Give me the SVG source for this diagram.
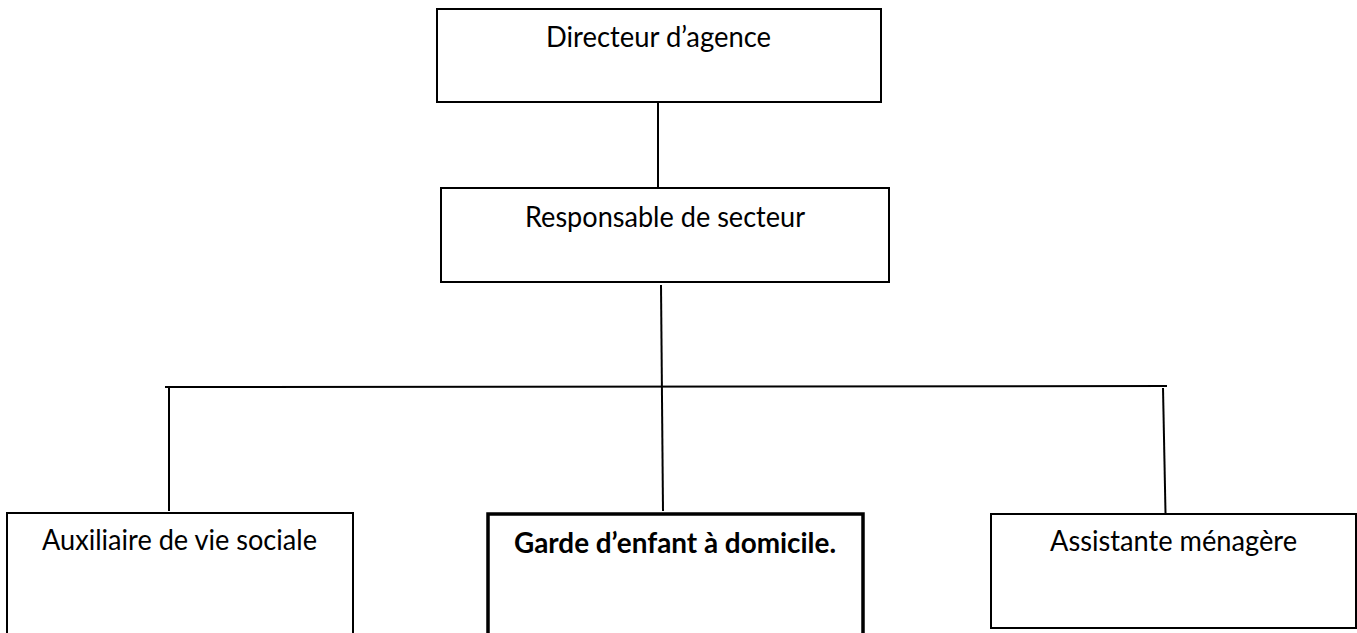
<svg xmlns="http://www.w3.org/2000/svg" width="1357" height="633" viewBox="0 0 1357 633">
<style>
.box{fill:#fff;stroke:#000;stroke-width:2}
.bold{fill:#fff;stroke:#000;stroke-width:3.5}
.t{font-family:Lato,"Open Sans","Liberation Sans",sans-serif;font-size:29px;fill:#000;text-anchor:middle}
.tb{font-weight:bold}
.c line{stroke:#000;stroke-width:2;fill:none}
</style>
<rect width="1357" height="633" fill="#fff"/>
<g id="n-directeur">
<rect class="box" x="437" y="9" width="444" height="93"/>
<text class="t" x="658.5" y="47" textLength="225" lengthAdjust="spacingAndGlyphs">Directeur d’agence</text>
</g>
<g id="n-responsable">
<rect class="box" x="441" y="188" width="448" height="94"/>
<text class="t" x="665" y="227" textLength="280" lengthAdjust="spacingAndGlyphs">Responsable de secteur</text>
</g>
<g id="n-auxiliaire">
<rect class="box" x="7" y="513" width="346" height="140"/>
<text class="t" x="179.5" y="550" textLength="275" lengthAdjust="spacingAndGlyphs">Auxiliaire de vie sociale</text>
</g>
<g id="n-garde">
<rect class="bold" x="488" y="514" width="375" height="140"/>
<text class="t tb" x="675" y="553" textLength="322" lengthAdjust="spacingAndGlyphs">Garde d’enfant à domicile.</text>
</g>
<g id="n-assistante">
<rect class="box" x="991" y="514" width="365" height="114"/>
<text class="t" x="1173.5" y="551" textLength="247" lengthAdjust="spacingAndGlyphs">Assistante ménagère</text>
</g>
<g id="connectors" class="c">
<line x1="658" y1="102" x2="658" y2="187"/>
<line x1="661" y1="285" x2="663" y2="511"/>
<line x1="165" y1="387" x2="1167" y2="386"/>
<line x1="169" y1="387" x2="169" y2="511"/>
<line x1="1163" y1="388" x2="1165.5" y2="513"/>
</g>
</svg>
